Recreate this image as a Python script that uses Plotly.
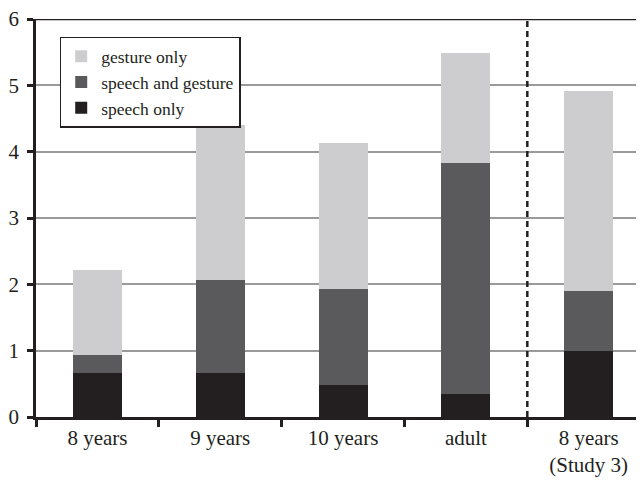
import plotly.graph_objects as go

categories = ["8 years", "9 years", "10 years", "adult", "8 years<br>(Study 3)"]
speech_only = [0.67, 0.67, 0.49, 0.34, 1.00]
speech_and_gesture = [0.27, 1.40, 1.44, 3.49, 0.90]
gesture_only = [1.27, 2.33, 2.20, 1.65, 3.01]

font_family = "Liberation Serif"

fig = go.Figure()
fig.add_trace(go.Bar(x=categories, y=speech_only, name="speech only",
                     marker=dict(color="#231f20", line=dict(width=0)), width=0.4))
fig.add_trace(go.Bar(x=categories, y=speech_and_gesture, name="speech and gesture",
                     marker=dict(color="#5a5a5c", line=dict(width=0)), width=0.4))
fig.add_trace(go.Bar(x=categories, y=gesture_only, name="gesture only",
                     marker=dict(color="#cdcdcf", line=dict(width=0)), width=0.4))

fig.update_layout(
    width=636, height=476,
    margin=dict(l=28, r=0, t=11, b=67),
    barmode="stack",
    plot_bgcolor="white", paper_bgcolor="white",
    font=dict(family=font_family, size=21, color="#231f20"),
    showlegend=True,
    legend=dict(x=0.039, y=0.955, xanchor="left", yanchor="top",
                traceorder="reversed", bordercolor="#231f20", borderwidth=1.5,
                bgcolor="white", font=dict(size=17.5), tracegroupgap=0,
                itemwidth=30),
    xaxis=dict(range=[-0.5, 4.45], showgrid=False, showline=True, automargin=False,
               linecolor="#231f20", linewidth=2.5, ticks="outside",
               ticklabeloverflow="allow",
               tickson="boundaries", ticklen=7, tickwidth=2.5, tickcolor="#231f20"),
    yaxis=dict(range=[0, 6], dtick=1, showgrid=True, gridcolor="#9a9a9a",
               gridwidth=2, showline=True, linecolor="#231f20", linewidth=2.5,
               automargin=False, ticklabeloverflow="allow",
               ticks="outside", ticklen=6, tickwidth=2.5, tickcolor="#231f20",
               zeroline=False, ticklabelstandoff=4),
    shapes=[
        dict(type="line", xref="paper", yref="y", x0=0, x1=1, y0=6, y1=6,
             line=dict(color="#231f20", width=2.5)),
        dict(type="line", xref="x", yref="y", x0=3.5, x1=3.5, y0=0, y1=6,
             line=dict(color="#231f20", width=2.5, dash="6px,4px")),
    ],
)

fig.write_html("out.html")
